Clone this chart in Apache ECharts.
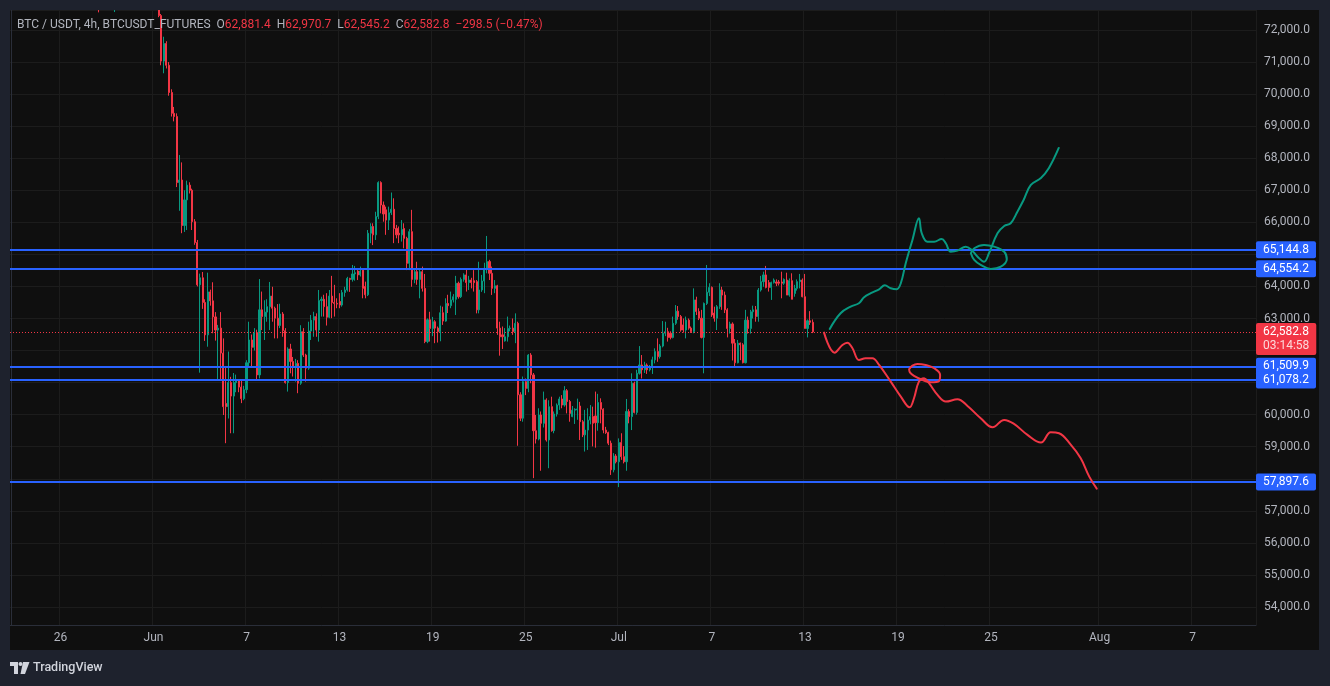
<!DOCTYPE html>
<html>
<head>
<meta charset="utf-8">
<title>BTC / USDT, 4h</title>
<script src="https://cdn.jsdelivr.net/npm/echarts@6.0.0/dist/echarts.min.js"></script>
<style>
  html, body { margin: 0; padding: 0; background: #1e222d; }
  #chart { width: 1330px; height: 686px; }
</style>
</head>
<body>
<div id="chart"></div>
<script>
var symbolName = 'BTC / USDT, 4h, BTCUSDT_FUTURES';
var countdown = '03:14:58';

// 4h slots on the time axis, first slot = 22 May 20:00
var axisStart = Date.UTC(2024, 4, 22, 20);
var axisBars = 482;

var tickLabels = [
  ['05-26', '26'], ['06-01', 'Jun'], ['06-07', '7'], ['06-13', '13'], ['06-19', '19'], ['06-25', '25'],
  ['07-01', 'Jul'], ['07-07', '7'], ['07-13', '13'], ['07-19', '19'], ['07-25', '25'], ['08-01', 'Aug'], ['08-07', '7']
];

// horizontal levels drawn on the chart
var levels = [65144.8, 64554.2, 61509.9, 61078.2, 57897.6];

// bars above the visible range, only their wicks peek in
var stubBars = ['05-28 12:00', '05-29 12:00'];
var stubOhlc = [[72900, 72700, 72550, 73100], [72700, 72950, 72560, 73100]];

var firstBar = '06-01 08:00';
// [open, close, low, high], one line per day
var ohlc = [
  [72950, 72450, 72400, 73100], [72450, 71030, 70900, 72500], [71030, 71580, 70650, 71790], [71580, 70900, 70800, 71650],
  [70900, 70050, 69950, 71000], [70050, 69400, 69300, 70150], [69400, 69300, 69150, 69600], [69300, 67240, 67100, 69400], [67240, 67320, 66360, 68100], [67320, 65900, 65660, 67870],
  [65900, 66700, 65700, 67000], [66700, 67160, 65760, 67300], [67160, 67000, 66900, 67250], [67000, 66020, 65760, 67050], [66020, 65370, 65300, 66100], [65370, 64050, 64000, 65450],
  [64050, 64270, 61310, 64400], [64270, 63500, 63300, 64450], [63500, 62490, 62300, 63600], [62490, 63830, 62120, 64430], [63830, 63550, 63400, 63900], [63550, 63050, 62540, 64130],
  [63050, 62640, 62310, 63200], [62640, 62700, 61080, 62800], [62700, 61920, 61080, 63200], [61920, 60250, 59990, 62380], [60350, 60250, 59110, 61500], [60250, 61000, 59880, 61970],
  [61000, 60580, 59420, 61180], [60580, 61000, 59420, 61300], [61000, 61050, 60700, 61250], [61050, 60860, 60700, 61100], [60860, 60500, 60360, 61100], [60500, 60780, 60450, 60900],
  [60780, 61620, 60670, 61700], [61620, 62330, 61500, 62900], [62330, 62100, 61500, 62500], [62100, 62560, 62000, 62700], [62560, 61240, 61080, 62650], [61240, 63270, 61130, 64230],
  [63270, 63060, 62640, 63840], [63060, 63200, 62330, 63570], [63200, 63370, 62900, 63600], [63370, 63700, 62640, 64140], [63700, 63320, 62900, 63990], [63320, 63010, 62380, 63370],
  [63010, 62780, 62380, 63450], [62780, 63140, 62700, 63460], [63140, 62620, 62430, 63200], [62620, 61000, 60970, 62700], [61000, 62050, 60720, 62100], [62050, 61660, 61290, 62210],
  [61660, 61470, 61190, 61800], [61470, 61600, 61030, 61740], [61600, 60980, 60670, 61700], [60980, 62590, 60930, 62790], [62590, 61860, 61800, 62700], [61860, 61450, 61030, 61900],
  [61450, 62610, 61400, 62900], [62610, 62950, 62330, 63110], [62950, 63060, 62430, 63210], [63060, 62640, 62430, 63160], [62640, 63560, 62280, 63890], [63560, 63600, 63060, 63680],
  [63600, 63370, 63060, 63740], [63370, 63040, 62780, 63790], [63040, 63700, 63010, 63890], [63700, 63500, 63010, 64330], [63500, 63470, 63060, 64050], [63470, 63450, 63320, 63630],
  [63530, 63420, 63320, 63790], [63420, 63810, 63370, 63890], [63810, 63890, 63680, 63990], [63890, 64250, 63840, 64300], [64250, 64220, 63830, 64270], [64220, 64390, 64150, 64670],
  [64390, 64430, 64180, 64640], [64480, 64360, 64200, 64510], [64360, 64480, 64310, 64620], [64510, 63940, 63630, 64540], [64000, 63740, 63630, 64150], [63740, 65660, 63700, 65760],
  [65660, 65870, 65350, 65970], [65870, 65610, 65290, 65970], [65610, 66180, 65450, 66330], [66180, 67240, 66100, 67280], [67240, 66540, 66280, 67280], [66540, 66260, 66020, 66650],
  [66390, 66070, 65610, 66490], [66070, 66300, 65760, 66490], [66300, 66410, 66230, 66930], [66410, 65810, 65350, 66750], [65810, 65610, 65500, 65920], [65660, 65610, 65350, 65870],
  [65610, 65780, 65400, 66070], [65810, 65500, 65190, 65970], [65500, 64720, 64510, 65550], [64720, 65710, 64510, 65790], [65710, 64220, 63990, 66390], [64220, 64460, 64100, 64560],
  [64460, 64220, 64050, 64770], [64220, 64460, 63630, 64560], [64460, 63940, 63840, 64620], [63940, 62280, 62230, 64390], [62280, 62960, 62230, 63000], [62960, 62690, 62280, 63210],
  [62690, 62900, 62450, 63050], [62900, 62700, 62230, 62950], [62700, 62590, 62250, 62750], [62590, 63180, 62290, 63400], [63180, 62920, 62800, 63370], [62920, 63470, 62900, 63630],
  [63470, 63400, 63170, 63740], [63400, 63580, 63320, 63840], [63580, 63680, 63500, 63760], [63600, 64100, 63110, 64330], [64100, 63680, 63620, 64150], [63680, 64220, 63640, 64280],
  [64220, 64360, 64150, 64410], [64360, 64120, 63840, 64570], [64120, 64200, 63890, 64330], [64200, 64120, 63940, 64270], [64180, 64120, 63840, 64510], [64150, 63270, 63160, 64200],
  [63270, 63890, 63160, 64770], [63890, 64170, 63830, 64360], [64170, 64565, 63790, 64740], [64565, 64775, 64410, 65575], [64775, 64410, 64200, 64830], [64410, 63940, 63735, 64620],
  [63940, 64020, 63790, 64200], [64020, 62700, 62490, 64050], [62700, 62430, 61840, 62900], [62490, 62430, 62050, 62750], [62300, 62430, 62280, 62700], [62430, 62690, 62280, 63060],
  [62690, 62700, 62600, 62780], [62700, 62590, 62490, 63000], [62590, 62850, 62230, 63160], [62850, 60620, 59030, 62900], [60620, 59890, 59800, 60700], [59890, 61030, 59780, 61190],
  [61030, 60820, 60610, 61130], [60820, 61860, 60700, 61890], [61860, 61240, 60980, 61920], [61240, 59500, 58020, 61300], [59500, 59240, 59100, 59990], [59240, 59990, 59200, 60200],
  [59990, 59730, 58250, 60100], [59730, 60460, 59600, 60720], [60460, 59210, 59160, 60510], [59210, 60250, 58330, 60450], [60250, 59500, 59470, 60560], [59500, 60020, 59420, 60100],
  [60020, 60300, 59940, 60350], [60300, 60490, 60150, 60560], [60490, 60300, 60200, 60610], [60300, 60750, 60250, 60890], [60750, 60410, 60040, 60800], [60410, 60040, 59780, 60460],
  [59940, 60140, 59920, 60270], [60140, 60170, 59710, 60200], [60150, 60180, 59840, 60500], [60270, 59780, 59210, 60400], [59780, 59370, 59300, 59830], [59370, 59520, 58850, 60150],
  [59520, 59830, 58900, 60200], [59830, 59940, 59700, 60300], [59940, 59730, 59010, 60250], [59960, 59750, 58970, 60720], [59750, 60380, 59500, 60650], [60380, 60170, 59730, 60510],
  [60170, 59520, 59420, 60200], [59520, 59440, 59400, 59620], [59440, 59110, 59050, 59470], [59110, 58280, 58120, 59190], [58280, 58710, 58200, 58800], [58710, 58530, 58480, 58770],
  [58530, 59130, 57740, 59260], [59130, 58690, 58590, 59420], [58690, 58530, 58480, 59020], [58530, 60100, 58250, 60490], [60100, 59940, 59730, 60170], [59940, 60980, 59520, 61290],
  [60980, 60070, 60040, 61030], [60070, 61290, 60000, 61400], [61290, 61550, 61250, 62140], [61550, 61400, 61130, 61860], [61400, 61550, 61300, 61650], [61550, 61400, 61270, 61600],
  [61400, 61480, 61350, 61550], [61480, 61710, 61270, 61810], [61710, 61970, 61600, 62070], [61970, 61810, 61650, 62380], [61810, 62140, 61750, 62200], [62140, 62540, 62100, 62920],
  [62540, 62590, 62450, 62900], [62590, 62410, 62280, 62710], [62540, 62410, 62350, 62600], [62410, 62850, 62380, 63060], [62850, 63230, 62800, 63420], [63230, 63060, 62960, 63390],
  [63060, 62640, 62590, 63110], [62800, 62640, 62560, 63000], [62640, 62950, 62380, 63060], [62950, 62700, 62650, 63000], [62700, 62590, 62550, 62750], [62590, 63580, 62540, 63940],
  [63580, 63220, 63110, 63680], [63220, 63010, 62950, 63320], [63010, 62410, 62380, 63270], [62410, 63470, 61290, 63500], [63470, 63820, 63420, 64670], [63820, 63970, 63700, 64100],
  [63970, 63110, 63050, 64000], [63170, 63010, 62900, 63370], [63010, 63370, 62640, 63420], [63370, 63890, 63300, 64100], [63890, 63730, 63270, 63990], [63730, 63270, 63170, 63840],
  [63270, 62690, 62410, 63320], [62690, 62830, 62530, 62900], [62830, 62230, 61690, 62880], [62230, 61620, 61500, 62360], [61620, 62230, 61600, 62330], [62230, 62180, 61700, 62250],
  [62180, 61620, 61600, 62230], [61620, 62950, 61600, 63270], [62950, 62690, 62530, 63060], [62690, 63210, 62530, 63270], [63210, 63270, 63000, 63400], [63270, 63060, 62900, 63390],
  [63060, 63890, 62900, 63950], [63890, 64150, 63840, 64330], [64150, 64360, 63990, 64460], [64360, 63970, 63940, 64640], [64120, 63970, 63840, 64200], [63970, 64120, 63580, 64150],
  [64120, 64200, 64090, 64250], [64140, 64100, 64010, 64220], [64140, 64100, 64030, 64200], [64140, 64100, 63630, 64460], [64100, 64220, 64050, 64250], [64200, 63730, 63730, 64430],
  [63730, 64180, 63680, 64250], [64180, 63600, 63600, 64410], [63780, 63940, 63680, 64050], [63940, 64150, 63870, 64220], [64150, 64200, 63940, 64390], [64200, 63680, 63660, 64250],
  [63680, 62690, 62690, 64390], [62690, 62930, 62410, 62970], [62930, 62881.3, 62800, 63230], [62881.4, 62582.8, 62545.2, 62970.7]
];

// hand drawn forecast strokes, [slot, price]
var bullPath = [
  [316.6, 62674], [320.8, 63164], [324.7, 63370], [327.9, 63476], [329.9, 63663], [332.5, 63788], [335.7, 63912],
  [337.9, 64037], [340.2, 63944], [342.5, 63912], [344.1, 64100], [346.0, 64723], [348.6, 65450], [351.1, 66127],
  [352.2, 65659], [354.4, 65397], [357.0, 65397], [359.9, 65481], [361.5, 65347], [363.4, 65085], [366.0, 65116],
  [369.2, 65241], [371.2, 65160], [373.8, 64929], [376.3, 64773], [378.2, 65035], [381.5, 65659], [384.1, 65887],
  [386.6, 65971], [389.2, 66333], [391.6, 66698], [394.4, 67166], [398.3, 67384], [401.4, 67696], [405.2, 68320]
];
var bullLoop = [
  [371.2, 65035], [372.5, 64826], [375.0, 64670], [378.9, 64546], [382.8, 64617], [385.1, 64848],
  [384.1, 65085], [380.2, 65241], [376.3, 65294], [372.5, 65191], [371.2, 65035]
];
var bearPath = [
  [314.4, 62559], [318.5, 61935], [321.5, 62175], [323.4, 62247], [325.4, 62072], [327.9, 61707], [330.5, 61760],
  [333.1, 61760], [335.7, 61551], [340.2, 61030], [344.1, 60563], [347.5, 60232], [349.2, 60513], [351.1, 61030],
  [353.1, 61137], [355.0, 60981], [358.3, 60616], [361.5, 60407], [366.0, 60481], [369.9, 60273], [375.0, 59889],
  [379.6, 59608], [384.1, 59836], [387.9, 59711], [393.1, 59368], [398.3, 59128], [402.1, 59452], [405.3, 59421],
  [409.9, 59056], [413.7, 58641], [417.0, 58067], [419.9, 57693]
];
var bearLoop = [
  [347.3, 61417], [348.6, 61529], [350.5, 61583], [353.7, 61551], [357.0, 61448], [359.3, 61239],
  [358.9, 61052], [355.7, 61012], [352.5, 61083], [349.2, 61208], [347.7, 61311], [347.3, 61417]
];

var upColor = '#089981';
var downColor = '#f23645';
var levelColor = '#2962ff';
var textColor = '#b2b5be';
var gridColor = '#1c1c1c';
var frameColor = '#1e222d';
var font = 'Roboto, "Liberation Sans", sans-serif';

function pad(n) { return (n < 10 ? '0' : '') + n; }
function fmt(v) { return v.toLocaleString('en-US', { minimumFractionDigits: 1, maximumFractionDigits: 1 }); }

var times = [];
for (var i = 0; i < axisBars; i++) {
  var t = new Date(axisStart + i * 4 * 3600 * 1000);
  times.push(pad(t.getUTCMonth() + 1) + '-' + pad(t.getUTCDate()) + ' ' + pad(t.getUTCHours()) + ':00');
}
var tickMap = {};
tickLabels.forEach(function (p) { tickMap[p[0] + ' 00:00'] = p[1]; });
function isTick(index, value) { return tickMap[value] !== undefined; }

var candleData = times.map(function () { return '-'; });
stubBars.forEach(function (s, k) { candleData[times.indexOf(s)] = stubOhlc[k]; });
var start = times.indexOf(firstBar);
ohlc.forEach(function (b, k) { candleData[start + k] = b; });

var last = ohlc[ohlc.length - 1];
var prev = ohlc[ohlc.length - 2];
var chg = last[1] - prev[1];
var sign = chg < 0 ? '\u2212' : '+';
var header = '{n|' + symbolName + '}  {k|O}{v|' + fmt(last[0]) + '}  {k|H}{v|' + fmt(last[3]) +
  '}  {k|L}{v|' + fmt(last[2]) + '}  {k|C}{v|' + fmt(last[1]) + '}  {v|' + sign + fmt(Math.abs(chg)) +
  ' (' + sign + (Math.abs(chg) / prev[1] * 100).toFixed(2) + '%)}';

// axis labels that would sit under a price tag are skipped, like the original
function hiddenByTag(v) {
  if (v < last[1] && last[1] - v < 800) return true;
  return levels.some(function (l) { return Math.abs(l - v) < 300; });
}

var levelLines = levels.map(function (v) {
  return {
    yAxis: v,
    lineStyle: { color: levelColor, width: 2, type: 'solid' },
    label: { backgroundColor: levelColor, formatter: fmt(v) }
  };
});
levelLines.push({
  yAxis: last[1],
  lineStyle: { color: downColor, width: 1, type: [1, 2] },
  label: {
    backgroundColor: downColor,
    offset: [0, 7],
    formatter: '{p|' + fmt(last[1]) + '}\n{c|' + countdown + '}',
    rich: {
      p: { color: '#ffffff', fontSize: 12, fontFamily: font, lineHeight: 14 },
      c: { color: 'rgba(255,255,255,0.8)', fontSize: 12, fontFamily: font, lineHeight: 14 }
    }
  }
});

function stroke(data, color) {
  return {
    type: 'line', xAxisIndex: 1, yAxisIndex: 0, data: data, smooth: 0.4,
    symbol: 'none', silent: true, z: 6,
    lineStyle: { color: color, width: 2, cap: 'round', join: 'round' }
  };
}

function strip(x, y, w, h) {
  return { type: 'rect', silent: true, z: 100, shape: { x: x, y: y, width: w, height: h }, style: { fill: frameColor } };
}

var chart = echarts.init(document.getElementById('chart'));
chart.setOption({
  backgroundColor: '#0f0f0f',
  animation: false,
  textStyle: { fontFamily: font },
  grid: { left: 10, right: 74, top: 10, bottom: 61 },
  xAxis: [{
    type: 'category',
    data: times,
    boundaryGap: true,
    axisLine: { show: true, lineStyle: { color: '#2a2e39' } },
    axisTick: { show: false },
    axisLabel: {
      interval: isTick, margin: 7, color: textColor, fontSize: 12, fontFamily: font,
      formatter: function (value) { return tickMap[value] || ''; }
    },
    splitLine: { show: true, interval: isTick, lineStyle: { color: gridColor } }
  }, {
    type: 'value', min: -0.5, max: axisBars - 0.5, show: false
  }],
  yAxis: {
    type: 'value',
    position: 'right',
    min: 53438.5,
    max: 72624,
    minInterval: 1000,
    maxInterval: 1000,
    axisLine: { show: true, lineStyle: { color: '#2a2e39' } },
    axisTick: { show: false },
    axisLabel: {
      margin: 8, color: textColor, fontSize: 12, fontFamily: font,
      formatter: function (v) { return (v % 1000 === 0 && !hiddenByTag(v)) ? fmt(v) : ''; }
    },
    splitLine: { lineStyle: { color: gridColor } }
  },
  series: [{
    type: 'candlestick',
    name: 'BTCUSDT',
    data: candleData,
    barWidth: 1.6,
    itemStyle: {
      color: upColor, color0: downColor,
      borderColor: upColor, borderColor0: downColor, borderWidth: 1
    },
    markLine: {
      silent: true,
      symbol: 'none',
      animation: false,
      label: {
        show: true, position: 'end', distance: 0,
        color: '#ffffff', fontSize: 12, fontFamily: font, lineHeight: 13,
        padding: [2, 7, 2, 7], borderRadius: 2
      },
      data: levelLines
    }
  },
    stroke(bullPath, upColor),
    stroke(bullLoop, upColor),
    stroke(bearPath, downColor),
    stroke(bearLoop, downColor)
  ],
  graphic: [
    strip(0, 0, 1330, 10),
    strip(0, 0, 10, 686),
    strip(1319, 0, 11, 686),
    strip(0, 650, 1330, 36),
    {
      type: 'text', silent: true, x: 17, y: 25, z: 110,
      style: {
        text: header, fill: textColor, font: '12px ' + font, verticalAlign: 'middle',
        rich: {
          n: { fill: textColor, font: '12px ' + font },
          k: { fill: textColor, font: '12px ' + font },
          v: { fill: downColor, font: '12px ' + font }
        }
      }
    },
    {
      type: 'group', silent: true, z: 110,
      children: [
        { type: 'polygon', z: 110, shape: { points: [[10, 662], [18, 662], [18, 674], [14, 674], [14, 666], [10, 666]] }, style: { fill: '#d1d4dc' } },
        { type: 'circle', z: 110, shape: { cx: 20.5, cy: 664, r: 2 }, style: { fill: '#d1d4dc' } },
        { type: 'polygon', z: 110, shape: { points: [[23, 662], [29.5, 662], [25, 674], [20.5, 674]] }, style: { fill: '#d1d4dc' } },
        { type: 'text', z: 110, x: 33, y: 668, style: { text: 'TradingView', fill: '#d1d4dc', font: '500 12.5px ' + font, verticalAlign: 'middle' } }
      ]
    }
  ]
});
</script>
</body>
</html>
